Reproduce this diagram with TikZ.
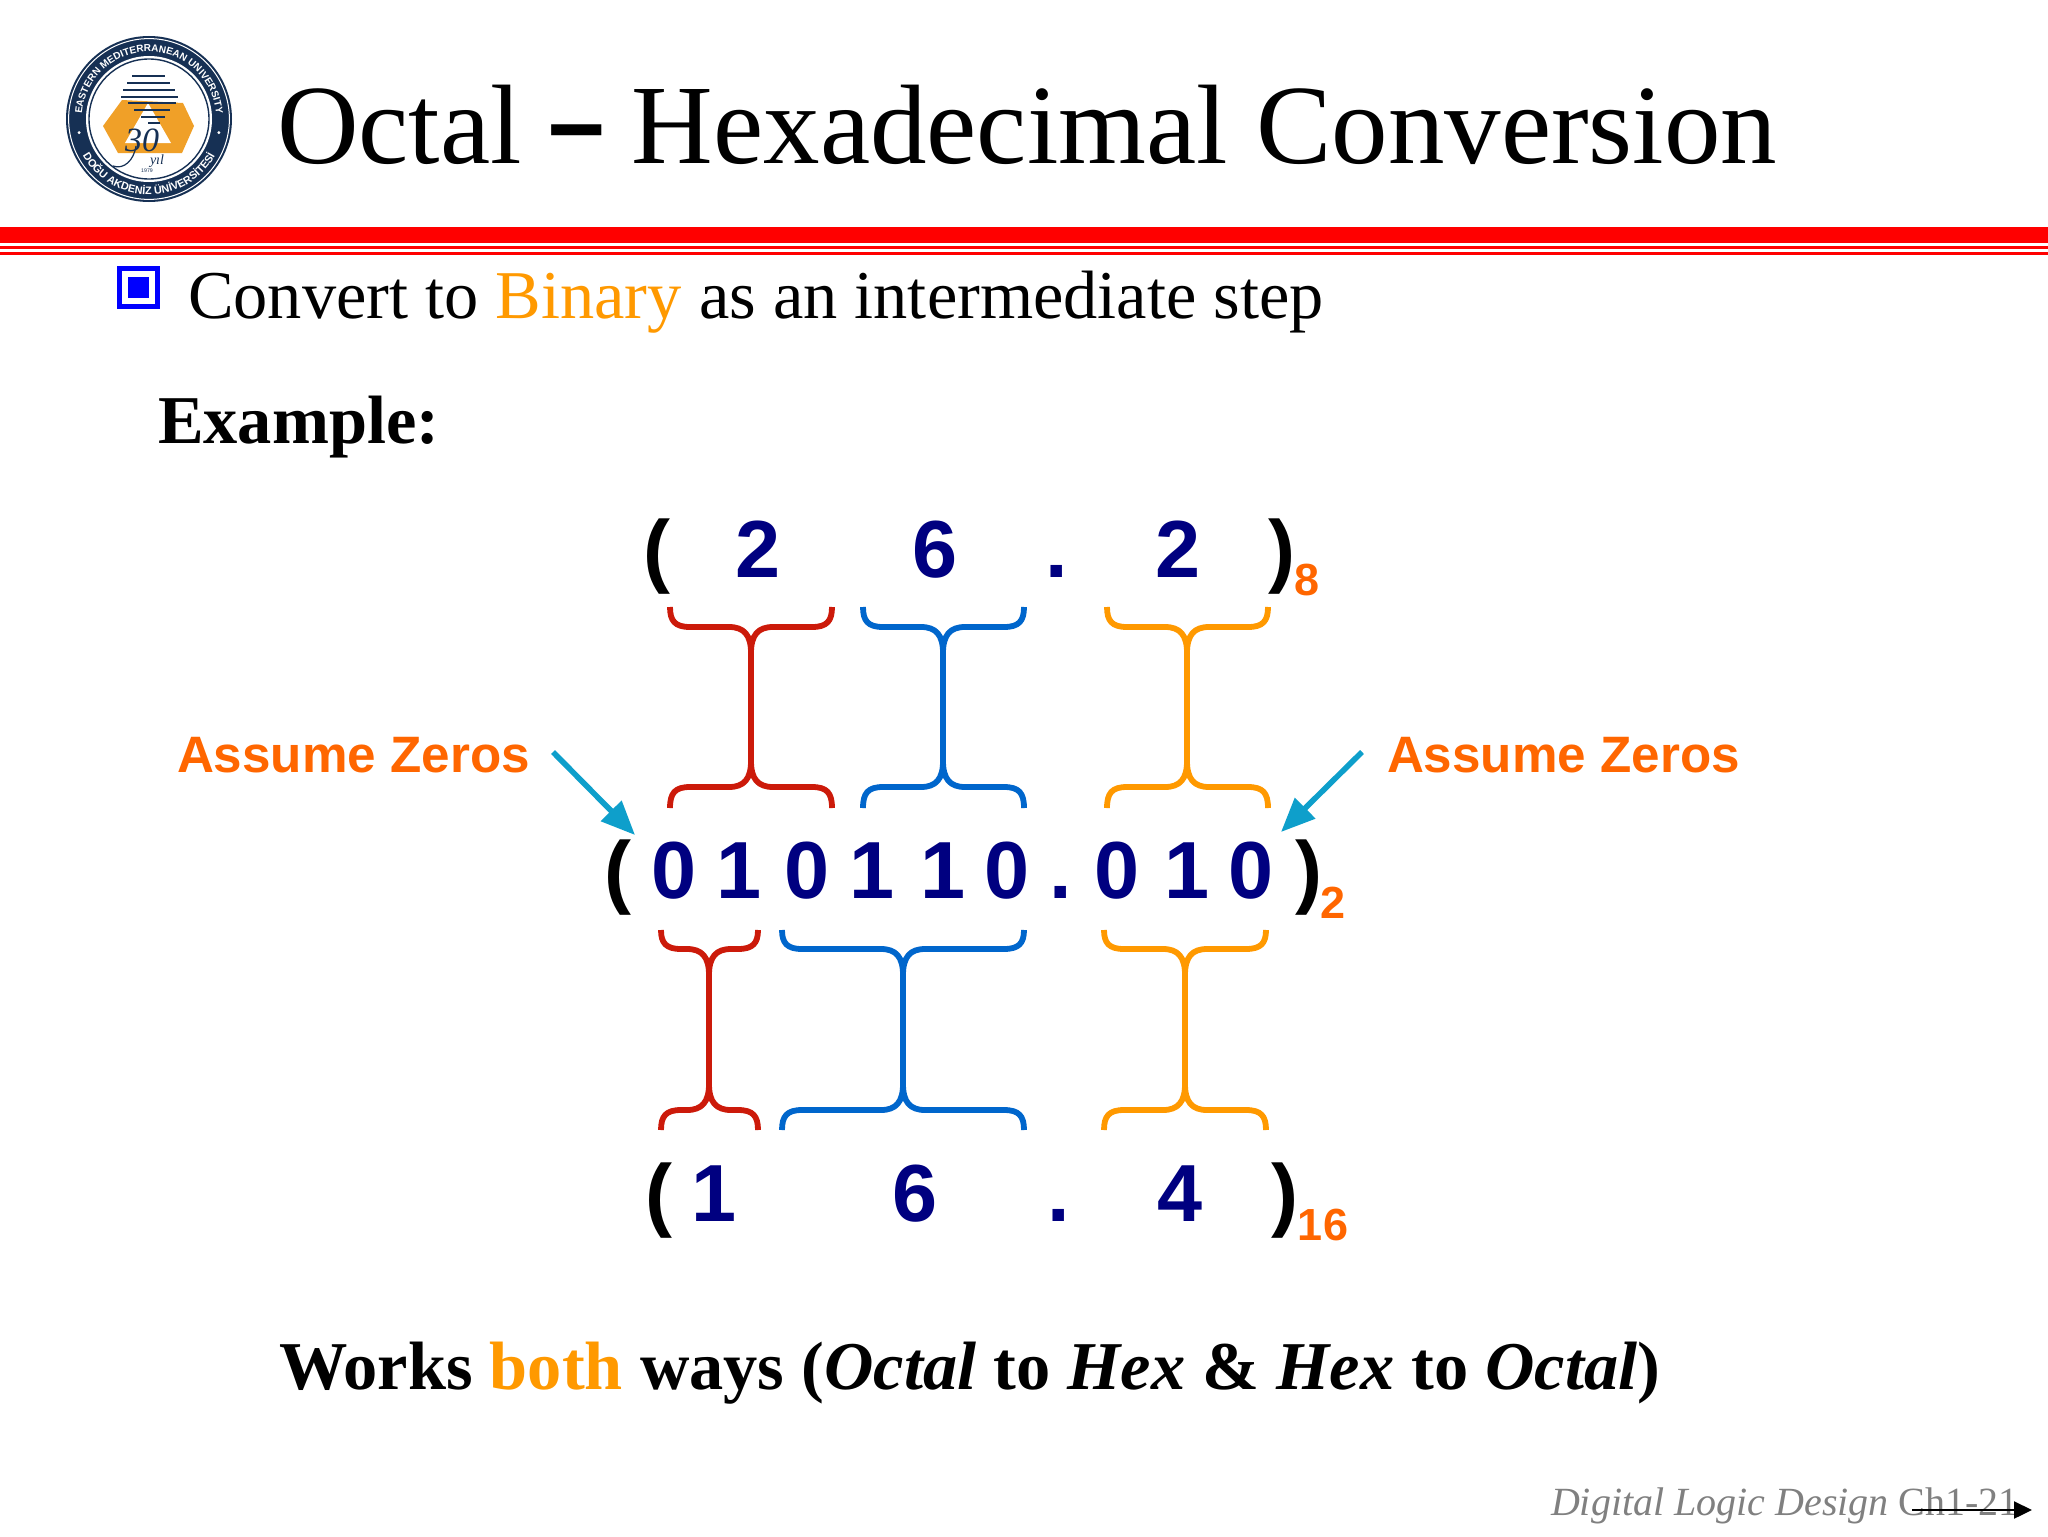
\documentclass[tikz,border=0pt]{standalone}
\usepackage{fontspec}
\setmainfont{Liberation Serif}
\setsansfont{Liberation Sans}
\usetikzlibrary{arrows.meta,decorations.text,calc}
\definecolor{navyd}{RGB}{0,0,128}
\definecolor{bin}{RGB}{255,153,0}
\definecolor{subo}{RGB}{255,102,0}
\definecolor{bred}{RGB}{204,26,10}
\definecolor{bblue}{RGB}{0,102,204}
\definecolor{bor}{RGB}{255,153,0}
\definecolor{arrowc}{RGB}{14,159,203}
\definecolor{logon}{RGB}{22,48,84}
\definecolor{logoo}{RGB}{240,160,40}
\tikzset{
  x=0.5pt,y=-0.5pt,
  txt/.style={inner sep=0pt,outer sep=0pt,anchor=base west,text=black},
  dig/.style={inner sep=0pt,outer sep=0pt,anchor=base,xshift=0.5pt,font=\sffamily\bfseries\fontsize{40.5}{40.5}\selectfont,text=navyd},
  par/.style={dig,text=black},
  subs/.style={inner sep=0pt,outer sep=0pt,anchor=base,font=\sffamily\bfseries\fontsize{22.5}{22.5}\selectfont,text=subo},
  assume/.style={inner sep=0pt,outer sep=0pt,anchor=base west,font=\sffamily\bfseries\fontsize{25.6}{25.6}\selectfont,text=subo},
  bracepath/.style={line width=2.9pt,line cap=butt,line join=round},
  callout/.style={draw=arrowc,line width=2.8pt,-{Triangle[length=17pt,width=14pt]}},
  ringtext/.style={decorate,decoration={text along path,text align=center,text color=white,text={#1}}},
}
% x1 x2 xs  y0 y1 y2 y3 colour
\newcommand{\Ibrace}[8]{%
  \draw[bracepath,draw=#8]
   (#1,#4) .. controls (#1,{#5-6}) and ({#1+5},#5) .. ({#1+20},#5)
   -- ({#3-22},#5) .. controls ({#3-7},#5) and (#3,{#5+8}) .. (#3,{#5+26})
   -- (#3,{#6-26}) .. controls (#3,{#6-8}) and ({#3-7},#6) .. ({#3-22},#6)
   -- ({#1+20},#6) .. controls ({#1+5},#6) and (#1,{#6+6}) .. (#1,#7);
  \draw[bracepath,draw=#8]
   (#2,#4) .. controls (#2,{#5-6}) and ({#2-5},#5) .. ({#2-20},#5)
   -- ({#3+22},#5) .. controls ({#3+7},#5) and (#3,{#5+8}) .. (#3,{#5+26})
   -- (#3,{#6-26}) .. controls (#3,{#6-8}) and ({#3+7},#6) .. ({#3+22},#6)
   -- ({#2-20},#6) .. controls ({#2-5},#6) and (#2,{#6+6}) .. (#2,#7);
}
\begin{document}
\begin{tikzpicture}
\useasboundingbox[fill=white] (0,0) rectangle (2048,1536);
% logo
\fill[logon] (149,119) circle (41.5pt);
\draw[white,line width=0.5pt] (149,119) circle (40.2pt);
\fill[white] (149,119) circle (31.5pt);
\draw[logon,line width=0.7pt] (149,119) circle (30pt);
\path[ringtext={|\sffamily\bfseries\fontsize{5}{5}\selectfont|EASTERN MEDITERRANEAN UNIVERSITY}]
  (149,119) ++(188:33.6pt) arc[start angle=188,end angle=-8,radius=33.6pt];
\path[ringtext={|\sffamily\bfseries\fontsize{5.4}{5.4}\selectfont|DOĞU AKDENİZ ÜNİVERSİTESİ}]
  (149,119) ++(197:37.8pt) arc[start angle=197,end angle=343,radius=37.8pt];
\fill[white] (149,119) ++(191:35.6pt) circle (0.8pt);
\fill[white] (149,119) ++(-11:35.6pt) circle (0.8pt);
\fill[logoo] (103,126) -- (122,100) -- (183,103) -- (194,126) -- (182,153) -- (118,153) -- cycle;
\fill[white] (148,103) -- (171,143) -- (125,143) -- cycle;
\foreach \yy/\xa/\xb in {76/132/165,83/127/170,90/123/175,97/121/178,103/128/176,110/134/170,117/141/165,123/148/160}
  \draw[logon,line width=1.1pt] (\xa,\yy) -- (\xb,\yy);
\draw[logon,line width=0.6pt] (136,146) .. controls (134,160) and (124,170) .. (113,166);
\node[inner sep=0pt] (logo30) at (142,140) {\itshape\fontsize{17}{17}\selectfont\textcolor{logon}{30}};
\node[inner sep=0pt] (logoyil) at (157,161) {\itshape\fontsize{7}{7}\selectfont\textcolor{logon}{yıl}};
\node[inner sep=0pt] (logoyear) at (147,171) {\sffamily\fontsize{2.6}{2.6}\selectfont\textcolor{logon}{1979}};
% title
\node[txt,font=\fontsize{56.5}{56.5}\selectfont] (title) at (277,163) {Octal\hspace{-1.2pt} {\sffamily\bfseries\fontsize{50}{50}\selectfont\raisebox{0pt}{−}}\hspace{-1.2pt} Hexadecimal Conversion};
% rules
\fill[red] (0,227) rectangle (2048,243);
\fill[red] (0,246) rectangle (2048,249);
\fill[red] (0,252) rectangle (2048,255);
% bullet
\draw[blue,line width=2.5pt] (119.5,268.5) rectangle (157.5,306.5);
\fill[blue] (128,277) rectangle (149,298);
\node[txt,font=\fontsize{34.2}{34.2}\selectfont] (conv) at (188,318) {Convert to \textcolor{bin}{Binary} as an intermediate step};
\node[txt,font=\bfseries\fontsize{34.2}{34.2}\selectfont] (ex) at (158,443) {Example:};
% line 1
\node[par] (p1a) at (656,577) {(};
\node[dig] (a1) at (757,577) {2};
\node[dig] (a2) at (934,577) {6};
\node[dig] (a3) at (1056,577) {.};
\node[dig] (a4) at (1177,577) {2};
\node[par] (p1b) at (1281,577) {)};
\node[subs] (s8) at (1307,595) {8};
% line 2
\node[par] (p2a) at (617,898) {(};
\foreach \nm/\xx/\dd in {b1/673/0,b2/738/1,b3/806/0,b4/871/1,b5/942/1,b6/1006/0,b7/1060/.,b8/1116/0,b9/1186/1,b10/1250/0}
  \node[dig] (\nm) at (\xx,898) {\dd};
\node[par] (p2b) at (1308,898) {)};
\node[subs] (s2) at (1333,918) {2};
% line 3
\node[par] (p3a) at (658,1221) {(};
\node[dig] (c1) at (713,1221) {1};
\node[dig] (c2) at (914,1221) {6};
\node[dig] (c3) at (1058,1221) {.};
\node[dig] (c4) at (1179,1221) {4};
\node[par] (p3b) at (1284,1221) {)};
\node[subs] (s16) at (1323,1240) {16};
% braces
\Ibrace{670}{832}{751}{607}{627}{787}{808}{bred}
\Ibrace{863}{1024}{943}{607}{627}{787}{808}{bblue}
\Ibrace{1107}{1268}{1187}{607}{627}{787}{808}{bor}
\Ibrace{661}{758}{709}{930}{949}{1110}{1130}{bred}
\Ibrace{782}{1024}{903}{930}{949}{1110}{1130}{bblue}
\Ibrace{1104}{1266}{1185}{930}{949}{1110}{1130}{bor}
% assume zeros
\node[assume] (azl) at (177,772) {Assume Zeros};
\node[assume] (azr) at (1387,772) {Assume Zeros};
\coordinate (azlf) at (553,752);
\coordinate (azlt) at (635,835);
\coordinate (azrf) at (1362,752);
\coordinate (azrt) at (1281,832);
\draw[callout] (azlf) -- (azlt);
\draw[callout] (azrf) -- (azrt);
% bottom
\node[txt,font=\bfseries\fontsize{34.2}{34.2}\selectfont] (works) at (279,1389)
 {Works \textcolor{bin}{both} ways (\textit{Octal} to \textit{Hex} \& \textit{Hex} to \textit{Octal})};
\node[txt,text=gray,font=\fontsize{20}{20}\selectfont] (foot) at (1551,1515) {\textit{Digital Logic Design} Ch1-21};
\coordinate (fa) at (1912,1510);
\coordinate (fb) at (2032,1510);
\draw[line width=1.1pt,-{Triangle[length=9pt,width=8.5pt]}] (fa) -- (fb);
\end{tikzpicture}
\end{document}
